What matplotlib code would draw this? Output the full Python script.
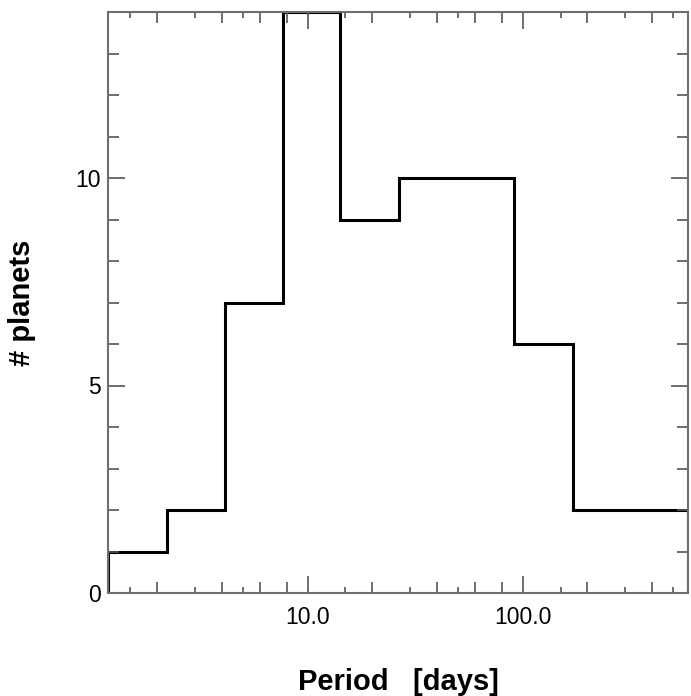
import numpy as np
import matplotlib
matplotlib.use("Agg")
import matplotlib.pyplot as plt
from matplotlib.ticker import FixedLocator, NullFormatter, FixedFormatter

plt.rcParams['font.family'] = ['Liberation Sans', 'DejaVu Sans']

# Orbital period histogram: log-spaced bin edges (days) and planet counts
bin_edges = [1.18, 2.21, 4.11, 7.67, 14.1, 26.6, 49.9, 91.2, 171.0, 318.0, 587.0]
counts = [1, 2, 7, 14, 9, 10, 10, 6, 2, 2]

x_major = [10.0, 100.0]
x_major_labels = ["10.0", "100.0"]
x_minor_long = [2, 4, 6, 8, 20, 40, 60, 80, 200, 400]
x_minor_short = [1.5, 3, 5, 15, 30, 50, 150, 300, 500]
y_major = [0, 5, 10]

fig = plt.figure(figsize=(6.91, 6.96), dpi=100)
ax = fig.add_axes([108 / 691, 103 / 696, 580 / 691, 581 / 696])

ax.stairs(counts, bin_edges, color='black', linewidth=2.2, baseline=0)

ax.set_xscale('log')
ax.set_xlim(bin_edges[0], bin_edges[-1])
ax.set_ylim(0, 14)

ax.xaxis.set_major_locator(FixedLocator(x_major))
ax.xaxis.set_major_formatter(FixedFormatter(x_major_labels))
ax.xaxis.set_minor_locator(FixedLocator(x_minor_long))
ax.xaxis.set_minor_formatter(NullFormatter())
ax.yaxis.set_major_locator(FixedLocator(y_major))
ax.yaxis.set_minor_locator(FixedLocator(np.arange(0, 15, 1)))

tick_color = '#555555'
ax.tick_params(which='major', direction='in', length=12, width=1.2, color=tick_color,
               top=True, right=True, labelsize=16.5)
ax.tick_params(axis='x', which='major', pad=9)
ax.tick_params(axis='y', which='major', pad=5)
ax.tick_params(which='minor', direction='in', length=8, width=1.2, color=tick_color,
               top=True, right=True)

# Shortest x ticks on both bottom and top edges
for loc in ('bottom', 'top'):
    sec = ax.secondary_xaxis(loc)
    sec.set_xticks(x_minor_short)
    sec.xaxis.set_minor_locator(FixedLocator([]))
    sec.set_xticklabels([])
    sec.tick_params(which='major', direction='in', length=4, width=1.2, color=tick_color)
    sec.spines[loc].set_visible(False)

for s in ax.spines.values():
    s.set_color('#6e6e6e')
    s.set_linewidth(1.5)

ax.set_xlabel('Period   [days]', fontsize=21, fontweight='bold')
ax.set_ylabel('# planets', fontsize=21, fontweight='bold')
ax.xaxis.set_label_coords(0.5, -(668 - 593) / 581)
ax.yaxis.set_label_coords(-(108 - 36) / 580, 0.5)

fig.savefig('out.png', dpi=100)
